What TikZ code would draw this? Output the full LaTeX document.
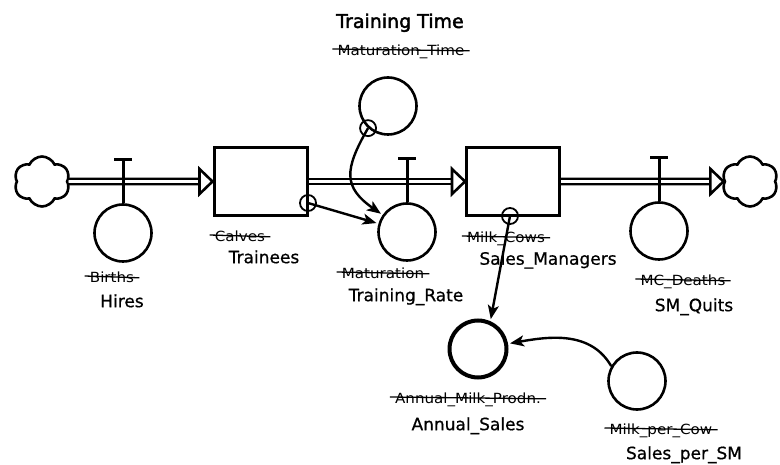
\documentclass[tikz,border=0pt]{standalone}
\usepackage{fontspec}
\setmainfont{DejaVu Sans}
\newfontfamily\oldfont[FakeStretch=1.08]{DejaVu Sans}
\newfontfamily\lblfont[FakeBold=0.7]{DejaVu Sans}
\newfontfamily\titlefont[FakeBold=2.2]{DejaVu Sans}
\usetikzlibrary{calc,arrows.meta,shapes.symbols}
\tikzset{
  stock/.style={draw, line width=3pt, minimum width=93pt, minimum height=68pt, inner sep=0pt},
  aux/.style={circle, draw, line width=2.6pt, minimum size=57pt, inner sep=0pt},
  port/.style={circle, draw, line width=1.8pt, minimum size=16pt, inner sep=0pt},
  sink/.style={cloud, cloud puffs=6, cloud puff arc=130, aspect=1.1, draw, line width=2.6pt,
    minimum width=56pt, minimum height=50pt, inner sep=0pt},
  pipe/.style={draw, line width=2.6pt, double=white, double distance=2.6pt},
  pipehead/.style={draw, fill=white, line width=2.6pt, line join=miter},
  valve/.style={draw, line width=3pt},
  link/.style={draw, line width=2.4pt, -{Stealth[length=14pt,width=11pt,inset=3.5pt]}, shorten >=2pt},
  lbl/.style={font=\lblfont\fontsize{17}{20}\selectfont, text height=12.4pt, text depth=0pt, inner sep=0pt},
  titlelbl/.style={font=\titlefont\fontsize{19}{22}\selectfont, text height=13.9pt, text depth=0pt, inner sep=0pt},
  strikeline/.style={draw, line width=1.3pt},
  oldlbl/.style={font=\oldfont\fontsize{14}{16}\selectfont, text height=10.2pt, text depth=0pt, inner sep=0pt,
    append after command={([xshift=-5pt,yshift=1pt]\tikzlastnode.west) edge[strikeline] ([xshift=5pt,yshift=-0.8pt]\tikzlastnode.east)}},
}
\def\pipe(#1)(#2){\draw[pipe] (#1) -- ([xshift=-13pt]#2);
  \draw[pipehead] ([xshift=-13pt,yshift=12.5pt]#2) -- (#2) -- ([xshift=-13pt,yshift=-12.5pt]#2) -- cycle;}

\begin{document}
\begin{tikzpicture}[x=1pt, y=1pt]
	\useasboundingbox (0,0) rectangle (780,464);
	
	% stocks and clouds
	\node[sink] (cloudL) at (42,282.5) {};
	\node[stock] (trainees) at (260.5,282.5) {};
	\node[stock] (salesMgr) at (513,282.5) {};
	\node[sink] (cloudR) at (750,282.5) {};
	
	% flows
	\pipe(cloudL.east)(trainees.west)
	\pipe(trainees.east)(salesMgr.west)
	\pipe(salesMgr.east)(cloudR.west)
	
	% flow rates
	\node[aux] (hires) at (123,231) {};
	\node[aux] (trainRate) at (407,232) {};
	\node[aux] (quits) at (659,233) {};
	\foreach \v in {hires,trainRate,quits} {
		\coordinate (\v T) at ([yshift=44pt]\v.north);
		\draw[valve] (\v.north) -- (\v T);
		\draw[valve] ([xshift=-9pt]\v T) -- ([xshift=9pt]\v T);
	}
	
	% converters
	\node[aux] (trainTime) at (388,358) {};
	\node[aux, line width=4pt] (annSales) at (478,115) {};
	\node[aux] (salesPerSM) at (637,83) {};
	
	% connectors
	\node[port] (trainOut) at (308,261) {};
	\node[port] (timeOut) at (trainTime.228) {};
	\node[port] (mgrOut) at (510,248) {};
	\draw[link] (trainOut.center) -- (trainRate);
	\draw[link] (timeOut.center) to[out=240, in=145, looseness=1.4] (trainRate);
	\draw[link] (mgrOut.center) -- (annSales.66);
	\draw[link] (salesPerSM.150) to[out=120, in=10] (annSales);
	
	% labels
	\node[titlelbl] (timeTitle) at (400,443) {Training Time};
	\node[oldlbl] (timeOld) at (401,414) {Maturation\_Time};
	\node[oldlbl] (hiresOld) at (112,187) {Births};
	\node[lbl] (hiresLbl) at (122,163) {Hires};
	\node[oldlbl] (traineesOld) at (240,228) {Calves};
	\node[lbl] (traineesLbl) at (264,207) {Trainees};
	\node[oldlbl] (rateOld) at (383,191) {Maturation};
	\node[lbl] (rateLbl) at (406,169) {Training\_Rate};
	\node[oldlbl] (mgrOld) at (506,227) {Milk\_Cows};
	\node[lbl] (mgrLbl) at (548,205.5) {Sales\_Managers};
	\node[oldlbl] (quitsOld) at (683,184) {MC\_Deaths};
	\node[lbl] (quitsLbl) at (694,159) {SM\_Quits};
	\node[oldlbl] (salesOld) at (468,66) {Annual\_Milk\_Prodn.};
	\node[lbl] (salesLbl) at (468,40) {Annual\_Sales};
	\node[oldlbl] (perSMOld) at (661,35) {Milk\_per\_Cow};
	\node[lbl] (perSMLbl) at (684,11) {Sales\_per\_SM};
\end{tikzpicture}
\end{document}
